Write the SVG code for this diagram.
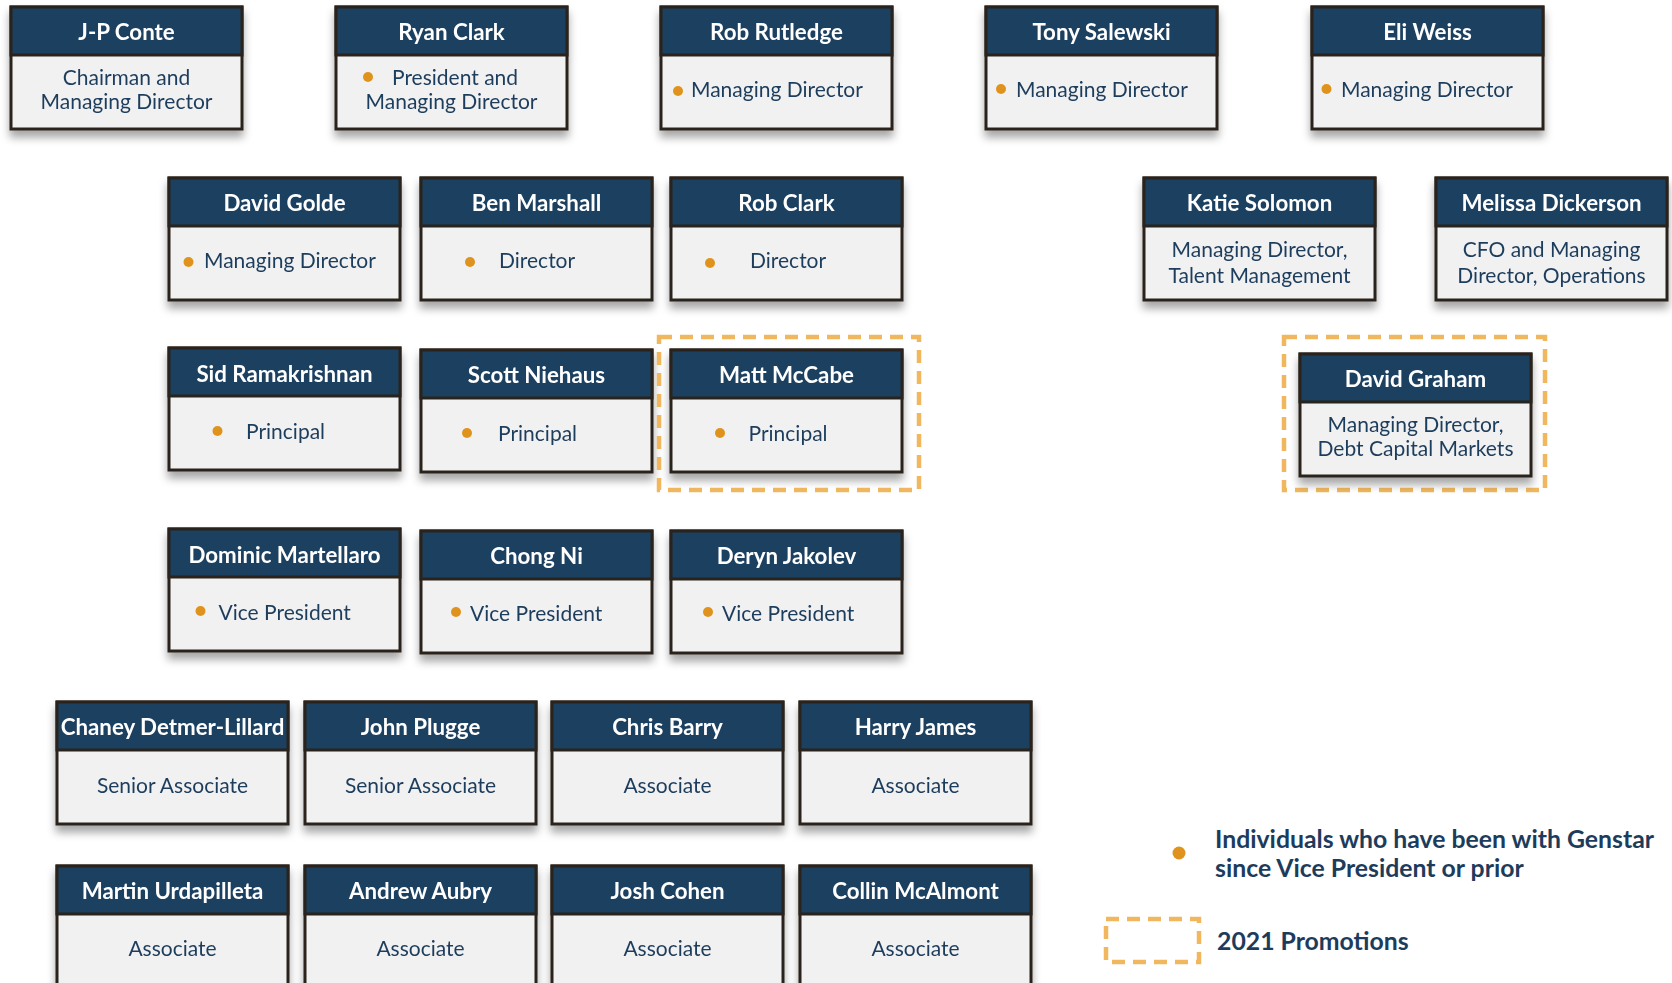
<svg xmlns="http://www.w3.org/2000/svg" width="1672" height="983" viewBox="0 0 1672 983">
  <defs>
    <filter id="shadow" x="-10%" y="-10%" width="120%" height="130%">
      <feDropShadow dx="0" dy="7" stdDeviation="4" flood-color="#000" flood-opacity="0.35"/>
    </filter>
  </defs>
  <style>
    .body { fill: #f1f1f1; stroke: #2b241c; stroke-width: 3; }
    .head { fill: #1c3f61; stroke: #2b241c; stroke-width: 3; }
    .name { font-family: Lato, "Liberation Sans", sans-serif; font-weight: 700; font-size: 22.3px; fill: #ffffff; text-anchor: middle; dominant-baseline: central; }
    .role { font-family: Lato, "Liberation Sans", sans-serif; font-size: 21px; fill: #1d3c5c; dominant-baseline: central; }
    .mid { text-anchor: middle; }
    .dot { fill: #e0931c; }
    .promo { fill: none; stroke: #f0b75e; stroke-width: 4.5; stroke-dasharray: 13 8; }
    .legend { font-family: Lato, "Liberation Sans", sans-serif; font-weight: 700; font-size: 24.8px; fill: #1d3c5c; dominant-baseline: central; }
  </style>

  <!-- Row 1 -->
  <g id="jp-conte" filter="url(#shadow)">
    <rect class="body" x="11" y="7" width="231" height="122"/>
    <rect class="head" x="11" y="7" width="231" height="48"/>
    <text class="name" x="126.5" y="31">J-P Conte</text>
    <text class="role mid" x="126.5" y="76.5">Chairman and</text>
    <text class="role mid" x="126.5" y="100.5">Managing Director</text>
  </g>
  <g id="ryan-clark" filter="url(#shadow)">
    <rect class="body" x="336" y="7" width="231" height="122"/>
    <rect class="head" x="336" y="7" width="231" height="48"/>
    <text class="name" x="451.5" y="31">Ryan Clark</text>
    <circle class="dot" cx="368" cy="77" r="5"/>
    <text class="role" x="392" y="76.5">President and</text>
    <text class="role mid" x="451.5" y="100.5">Managing Director</text>
  </g>
  <g id="rob-rutledge" filter="url(#shadow)">
    <rect class="body" x="661" y="7" width="231" height="122"/>
    <rect class="head" x="661" y="7" width="231" height="48"/>
    <text class="name" x="776.5" y="31">Rob Rutledge</text>
    <circle class="dot" cx="678" cy="91" r="5"/>
    <text class="role" x="691" y="88.5">Managing Director</text>
  </g>
  <g id="tony-salewski" filter="url(#shadow)">
    <rect class="body" x="986" y="7" width="231" height="122"/>
    <rect class="head" x="986" y="7" width="231" height="48"/>
    <text class="name" x="1101.5" y="31">Tony Salewski</text>
    <circle class="dot" cx="1001" cy="89" r="5"/>
    <text class="role" x="1016" y="88.5">Managing Director</text>
  </g>
  <g id="eli-weiss" filter="url(#shadow)">
    <rect class="body" x="1312" y="7" width="231" height="122"/>
    <rect class="head" x="1312" y="7" width="231" height="48"/>
    <text class="name" x="1427.5" y="31">Eli Weiss</text>
    <circle class="dot" cx="1326.5" cy="89" r="5"/>
    <text class="role" x="1341" y="88.5">Managing Director</text>
  </g>

  <!-- Row 2 -->
  <g id="david-golde" filter="url(#shadow)">
    <rect class="body" x="169" y="178" width="231" height="122"/>
    <rect class="head" x="169" y="178" width="231" height="48"/>
    <text class="name" x="284.5" y="202">David Golde</text>
    <circle class="dot" cx="188.5" cy="262" r="5"/>
    <text class="role" x="204" y="259">Managing Director</text>
  </g>
  <g id="ben-marshall" filter="url(#shadow)">
    <rect class="body" x="421" y="178" width="231" height="122"/>
    <rect class="head" x="421" y="178" width="231" height="48"/>
    <text class="name" x="536.5" y="202">Ben Marshall</text>
    <circle class="dot" cx="470" cy="262" r="5"/>
    <text class="role" x="499" y="259">Director</text>
  </g>
  <g id="rob-clark" filter="url(#shadow)">
    <rect class="body" x="671" y="178" width="231" height="122"/>
    <rect class="head" x="671" y="178" width="231" height="48"/>
    <text class="name" x="786.5" y="202">Rob Clark</text>
    <circle class="dot" cx="710" cy="263" r="5"/>
    <text class="role" x="750" y="259">Director</text>
  </g>
  <g id="katie-solomon" filter="url(#shadow)">
    <rect class="body" x="1144" y="178" width="231" height="122"/>
    <rect class="head" x="1144" y="178" width="231" height="48"/>
    <text class="name" x="1259.5" y="202">Katie Solomon</text>
    <text class="role mid" x="1259.5" y="248.5">Managing Director,</text>
    <text class="role mid" x="1259.5" y="274">Talent Management</text>
  </g>
  <g id="melissa-dickerson" filter="url(#shadow)">
    <rect class="body" x="1436" y="178" width="231" height="122"/>
    <rect class="head" x="1436" y="178" width="231" height="48"/>
    <text class="name" x="1551.5" y="202">Melissa Dickerson</text>
    <text class="role mid" x="1551.5" y="248.5">CFO and Managing</text>
    <text class="role mid" x="1551.5" y="274">Director, Operations</text>
  </g>

  <!-- Row 3 -->
  <g id="sid-ramakrishnan" filter="url(#shadow)">
    <rect class="body" x="169" y="348" width="231" height="122"/>
    <rect class="head" x="169" y="348" width="231" height="48"/>
    <text class="name" x="284.5" y="373">Sid Ramakrishnan</text>
    <circle class="dot" cx="217.5" cy="431" r="5"/>
    <text class="role" x="246" y="430">Principal</text>
  </g>
  <g id="scott-niehaus" filter="url(#shadow)">
    <rect class="body" x="421" y="350" width="231" height="122"/>
    <rect class="head" x="421" y="350" width="231" height="48"/>
    <text class="name" x="536.5" y="374">Scott Niehaus</text>
    <circle class="dot" cx="467" cy="433" r="5"/>
    <text class="role" x="498" y="432">Principal</text>
  </g>
  <g id="matt-mccabe">
    <rect class="promo" x="659" y="337" width="260" height="153"/>
    <g filter="url(#shadow)">
      <rect class="body" x="671" y="350" width="231" height="122"/>
      <rect class="head" x="671" y="350" width="231" height="48"/>
      <text class="name" x="786.5" y="374">Matt McCabe</text>
      <circle class="dot" cx="720" cy="433" r="5"/>
      <text class="role" x="748.5" y="432">Principal</text>
    </g>
  </g>
  <g id="david-graham">
    <rect class="promo" x="1284" y="337" width="261" height="153"/>
    <g filter="url(#shadow)">
      <rect class="body" x="1300" y="354" width="231" height="122"/>
      <rect class="head" x="1300" y="354" width="231" height="48"/>
      <text class="name" x="1415.5" y="378.5">David Graham</text>
      <text class="role mid" x="1415.5" y="423.5">Managing Director,</text>
      <text class="role mid" x="1415.5" y="447">Debt Capital Markets</text>
    </g>
  </g>

  <!-- Row 4 -->
  <g id="dominic-martellaro" filter="url(#shadow)">
    <rect class="body" x="169" y="529" width="231" height="122"/>
    <rect class="head" x="169" y="529" width="231" height="48"/>
    <text class="name" x="284.5" y="554.5">Dominic Martellaro</text>
    <circle class="dot" cx="200.5" cy="611" r="5"/>
    <text class="role" x="218.5" y="611">Vice President</text>
  </g>
  <g id="chong-ni" filter="url(#shadow)">
    <rect class="body" x="421" y="531" width="231" height="122"/>
    <rect class="head" x="421" y="531" width="231" height="48"/>
    <text class="name" x="536.5" y="555.5">Chong Ni</text>
    <circle class="dot" cx="456" cy="612" r="5"/>
    <text class="role" x="470" y="612">Vice President</text>
  </g>
  <g id="deryn-jakolev" filter="url(#shadow)">
    <rect class="body" x="671" y="531" width="231" height="122"/>
    <rect class="head" x="671" y="531" width="231" height="48"/>
    <text class="name" x="786.5" y="555.5">Deryn Jakolev</text>
    <circle class="dot" cx="708" cy="612" r="5"/>
    <text class="role" x="722" y="612">Vice President</text>
  </g>

  <!-- Row 5 -->
  <g id="chaney-detmer-lillard" filter="url(#shadow)">
    <rect class="body" x="57" y="702" width="231" height="122"/>
    <rect class="head" x="57" y="702" width="231" height="48"/>
    <text class="name" x="172.5" y="726">Chaney Detmer-Lillard</text>
    <text class="role mid" x="172.5" y="784">Senior Associate</text>
  </g>
  <g id="john-plugge" filter="url(#shadow)">
    <rect class="body" x="305" y="702" width="231" height="122"/>
    <rect class="head" x="305" y="702" width="231" height="48"/>
    <text class="name" x="420.5" y="726">John Plugge</text>
    <text class="role mid" x="420.5" y="784">Senior Associate</text>
  </g>
  <g id="chris-barry" filter="url(#shadow)">
    <rect class="body" x="552" y="702" width="231" height="122"/>
    <rect class="head" x="552" y="702" width="231" height="48"/>
    <text class="name" x="667.5" y="726">Chris Barry</text>
    <text class="role mid" x="667.5" y="784">Associate</text>
  </g>
  <g id="harry-james" filter="url(#shadow)">
    <rect class="body" x="800" y="702" width="231" height="122"/>
    <rect class="head" x="800" y="702" width="231" height="48"/>
    <text class="name" x="915.5" y="726">Harry James</text>
    <text class="role mid" x="915.5" y="784">Associate</text>
  </g>

  <!-- Row 6 -->
  <g id="martin-urdapilleta" filter="url(#shadow)">
    <rect class="body" x="57" y="866" width="231" height="122"/>
    <rect class="head" x="57" y="866" width="231" height="48"/>
    <text class="name" x="172.5" y="890">Martin Urdapilleta</text>
    <text class="role mid" x="172.5" y="947">Associate</text>
  </g>
  <g id="andrew-aubry" filter="url(#shadow)">
    <rect class="body" x="305" y="866" width="231" height="122"/>
    <rect class="head" x="305" y="866" width="231" height="48"/>
    <text class="name" x="420.5" y="890">Andrew Aubry</text>
    <text class="role mid" x="420.5" y="947">Associate</text>
  </g>
  <g id="josh-cohen" filter="url(#shadow)">
    <rect class="body" x="552" y="866" width="231" height="122"/>
    <rect class="head" x="552" y="866" width="231" height="48"/>
    <text class="name" x="667.5" y="890">Josh Cohen</text>
    <text class="role mid" x="667.5" y="947">Associate</text>
  </g>
  <g id="collin-mcalmont" filter="url(#shadow)">
    <rect class="body" x="800" y="866" width="231" height="122"/>
    <rect class="head" x="800" y="866" width="231" height="48"/>
    <text class="name" x="915.5" y="890">Collin McAlmont</text>
    <text class="role mid" x="915.5" y="947">Associate</text>
  </g>

  <!-- Legend -->
  <g id="legend">
    <circle class="dot" cx="1179" cy="853" r="6.5"/>
    <text class="legend" x="1215" y="838">Individuals who have been with Genstar</text>
    <text class="legend" x="1215" y="867">since Vice President or prior</text>
    <rect class="promo" x="1106" y="919" width="93" height="43"/>
    <text class="legend" x="1217" y="940">2021 Promotions</text>
  </g>

  <!-- No connectors in this chart -->
  <g id="connectors"/>
</svg>
